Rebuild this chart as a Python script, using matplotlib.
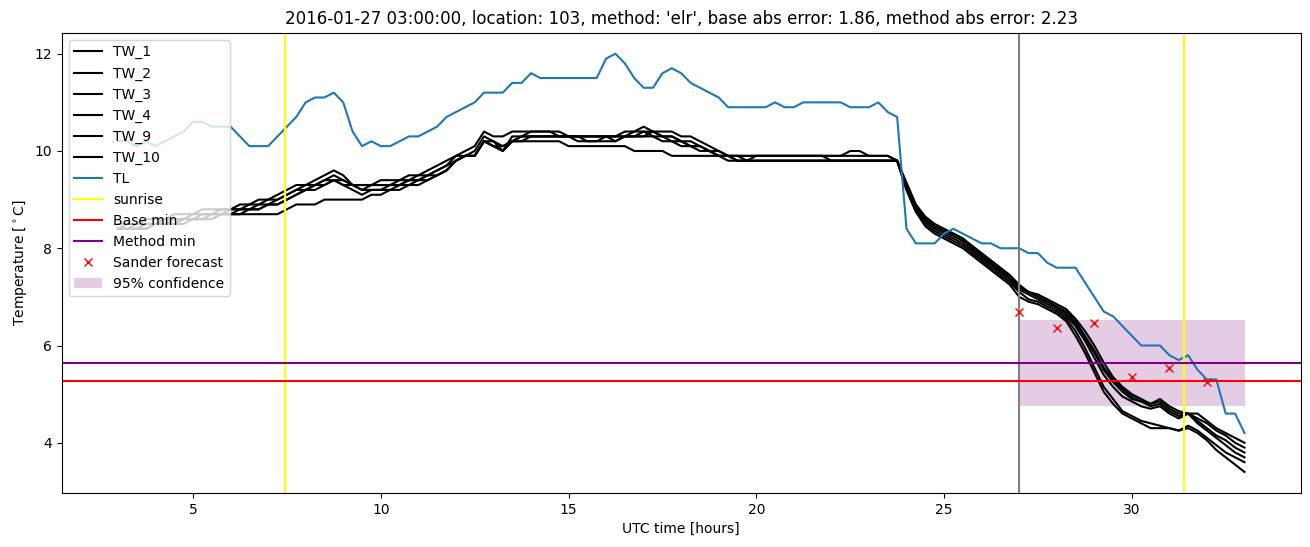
import matplotlib
matplotlib.use('Agg')
import matplotlib.pyplot as plt
import numpy as np

# time axis, 15 min steps [hours UTC]
t = np.arange(3.0, 33.01, 0.25)

TL = [10.2, 10.2, 10.1, 10.2, 10.1, 10.2, 10.3, 10.4, 10.6, 10.6, 10.5, 10.5,
      10.5, 10.3, 10.1, 10.1, 10.1, 10.3, 10.5, 10.7, 11.0, 11.1, 11.1, 11.2,
      11.0, 10.4, 10.1, 10.2, 10.1, 10.1, 10.2, 10.3, 10.3, 10.4, 10.5, 10.7,
      10.8, 10.9, 11.0, 11.2, 11.2, 11.2, 11.4, 11.4, 11.6, 11.5, 11.5, 11.5,
      11.5, 11.5, 11.5, 11.5, 11.9, 12.0, 11.8, 11.5, 11.3, 11.3, 11.6, 11.7,
      11.6, 11.4, 11.3, 11.2, 11.1, 10.9, 10.9, 10.9, 10.9, 10.9, 11.0, 10.9,
      10.9, 11.0, 11.0, 11.0, 11.0, 11.0, 10.9, 10.9, 10.9, 11.0, 10.8, 10.7,
      8.4, 8.1, 8.1, 8.1, 8.3, 8.4, 8.3, 8.2, 8.1, 8.1, 8.0, 8.0,
      8.0, 7.9, 7.9, 7.7, 7.6, 7.6, 7.6, 7.3, 7.0, 6.7, 6.6, 6.4,
      6.2, 6.0, 6.0, 6.0, 5.8, 5.7, 5.8, 5.5, 5.3, 5.3, 4.6, 4.6, 4.2]

TW_1 = [8.5, 8.5, 8.5, 8.6, 8.6, 8.6, 8.7, 8.7, 8.7, 8.8, 8.8, 8.8,
        8.8, 8.9, 8.9, 9.0, 9.0, 9.1, 9.2, 9.3, 9.3, 9.4, 9.5, 9.6,
        9.5, 9.3, 9.3, 9.3, 9.4, 9.4, 9.4, 9.5, 9.5, 9.6, 9.7, 9.8,
        9.9, 10.0, 10.1, 10.4, 10.3, 10.3, 10.4, 10.4, 10.4, 10.4, 10.4, 10.4,
        10.3, 10.3, 10.3, 10.3, 10.3, 10.3, 10.4, 10.4, 10.5, 10.4, 10.4, 10.4,
        10.3, 10.3, 10.2, 10.1, 10.0, 9.9, 9.9, 9.9, 9.9, 9.9, 9.9, 9.9,
        9.9, 9.9, 9.9, 9.9, 9.9, 9.9, 10.0, 10.0, 9.9, 9.9, 9.9, 9.8,
        9.35, 8.9, 8.65, 8.5, 8.4, 8.3, 8.2, 8.05, 7.9, 7.75, 7.6, 7.45,
        7.25, 7.1, 7.05, 6.95, 6.85, 6.75, 6.55, 6.3, 6.0, 5.65, 5.35, 5.15,
        5.0, 4.9, 4.8, 4.9, 4.75, 4.65, 4.6, 4.6, 4.45, 4.3, 4.2, 4.1, 4.0]

TW_2 = [8.4, 8.5, 8.5, 8.5, 8.5, 8.6, 8.6, 8.6, 8.7, 8.7, 8.7, 8.8,
        8.8, 8.8, 8.9, 8.9, 9.0, 9.0, 9.1, 9.2, 9.3, 9.3, 9.4, 9.5,
        9.4, 9.3, 9.2, 9.3, 9.3, 9.3, 9.4, 9.4, 9.5, 9.5, 9.6, 9.7,
        9.9, 9.9, 10.0, 10.3, 10.2, 10.0, 10.3, 10.3, 10.4, 10.4, 10.4, 10.3,
        10.3, 10.3, 10.3, 10.3, 10.3, 10.3, 10.3, 10.4, 10.4, 10.4, 10.3, 10.3,
        10.2, 10.2, 10.1, 10.0, 10.0, 9.9, 9.9, 9.9, 9.9, 9.9, 9.9, 9.9,
        9.9, 9.9, 9.9, 9.9, 9.9, 9.9, 9.9, 9.9, 9.9, 9.9, 9.9, 9.8,
        9.3, 8.85, 8.6, 8.45, 8.35, 8.3, 8.2, 8.0, 7.85, 7.7, 7.55, 7.4,
        7.2, 7.1, 7.0, 6.9, 6.8, 6.7, 6.5, 6.2, 5.9, 5.55, 5.3, 5.1,
        4.95, 4.85, 4.8, 4.85, 4.7, 4.6, 4.6, 4.5, 4.4, 4.25, 4.15, 4.0, 3.9]

TW_3 = [8.4, 8.4, 8.5, 8.5, 8.5, 8.5, 8.6, 8.6, 8.6, 8.7, 8.7, 8.7,
        8.8, 8.8, 8.8, 8.9, 8.9, 9.0, 9.1, 9.2, 9.2, 9.3, 9.4, 9.4,
        9.4, 9.3, 9.3, 9.3, 9.3, 9.3, 9.3, 9.4, 9.4, 9.5, 9.6, 9.7,
        9.8, 9.9, 9.9, 10.2, 10.1, 10.0, 10.2, 10.3, 10.3, 10.3, 10.3, 10.3,
        10.3, 10.3, 10.2, 10.2, 10.3, 10.3, 10.3, 10.3, 10.3, 10.4, 10.3, 10.2,
        10.2, 10.1, 10.1, 10.0, 9.9, 9.9, 9.8, 9.8, 9.8, 9.8, 9.8, 9.8,
        9.8, 9.8, 9.8, 9.8, 9.8, 9.8, 9.8, 9.8, 9.8, 9.8, 9.8, 9.8,
        9.3, 8.85, 8.6, 8.45, 8.35, 8.25, 8.15, 8.0, 7.85, 7.7, 7.55, 7.4,
        7.2, 7.1, 7.0, 6.9, 6.8, 6.65, 6.45, 6.15, 5.85, 5.5, 5.25, 5.05,
        4.9, 4.85, 4.75, 4.8, 4.65, 4.55, 4.6, 4.45, 4.3, 4.15, 4.05, 3.9, 3.8]

TW_4 = [8.4, 8.4, 8.4, 8.5, 8.5, 8.5, 8.5, 8.6, 8.6, 8.6, 8.7, 8.7,
        8.7, 8.8, 8.8, 8.8, 8.9, 8.9, 9.0, 9.1, 9.2, 9.3, 9.3, 9.4,
        9.3, 9.2, 9.1, 9.2, 9.2, 9.3, 9.3, 9.4, 9.4, 9.5, 9.5, 9.6,
        9.8, 9.9, 9.9, 10.2, 10.1, 10.1, 10.2, 10.2, 10.3, 10.3, 10.3, 10.3,
        10.3, 10.2, 10.2, 10.2, 10.2, 10.2, 10.3, 10.3, 10.3, 10.3, 10.2, 10.2,
        10.1, 10.1, 10.0, 10.0, 9.9, 9.8, 9.8, 9.8, 9.8, 9.8, 9.8, 9.8,
        9.8, 9.8, 9.8, 9.8, 9.8, 9.8, 9.8, 9.8, 9.8, 9.8, 9.8, 9.8,
        9.25, 8.8, 8.55, 8.4, 8.3, 8.2, 8.1, 7.95, 7.8, 7.65, 7.5, 7.35,
        7.15, 7.05, 6.95, 6.85, 6.75, 6.6, 6.4, 6.1, 5.75, 5.4, 5.15, 4.95,
        4.85, 4.75, 4.7, 4.75, 4.6, 4.5, 4.6, 4.4, 4.25, 4.1, 3.95, 3.8, 3.7]

TW_9 = [8.4, 8.4, 8.4, 8.4, 8.5, 8.5, 8.5, 8.5, 8.6, 8.6, 8.6, 8.7,
        8.7, 8.7, 8.8, 8.8, 8.9, 8.9, 9.0, 9.1, 9.2, 9.2, 9.3, 9.4,
        9.3, 9.3, 9.2, 9.2, 9.2, 9.2, 9.3, 9.3, 9.4, 9.4, 9.5, 9.6,
        9.8, 9.9, 9.9, 10.2, 10.1, 10.0, 10.2, 10.3, 10.3, 10.3, 10.3, 10.3,
        10.3, 10.3, 10.3, 10.3, 10.3, 10.2, 10.3, 10.3, 10.4, 10.3, 10.3, 10.3,
        10.2, 10.1, 10.1, 10.0, 9.9, 9.9, 9.9, 9.8, 9.9, 9.9, 9.9, 9.9,
        9.9, 9.9, 9.9, 9.9, 9.8, 9.8, 9.8, 9.8, 9.8, 9.8, 9.8, 9.8,
        9.2, 8.75, 8.5, 8.35, 8.25, 8.15, 8.05, 7.9, 7.75, 7.6, 7.45, 7.3,
        7.1, 6.95, 6.9, 6.8, 6.7, 6.55, 6.3, 5.95, 5.55, 5.15, 4.9, 4.65,
        4.55, 4.45, 4.4, 4.35, 4.3, 4.25, 4.35, 4.25, 4.1, 3.95, 3.8, 3.7, 3.6]

TW_10 = [8.4, 8.4, 8.4, 8.4, 8.5, 8.5, 8.5, 8.6, 8.6, 8.6, 8.6, 8.7,
         8.7, 8.7, 8.7, 8.7, 8.7, 8.7, 8.8, 8.9, 8.9, 8.9, 9.0, 9.0,
         9.0, 9.0, 9.0, 9.1, 9.1, 9.2, 9.2, 9.3, 9.3, 9.4, 9.5, 9.6,
         9.8, 9.9, 9.9, 10.2, 10.2, 10.1, 10.2, 10.2, 10.2, 10.2, 10.2, 10.2,
         10.1, 10.1, 10.1, 10.1, 10.1, 10.1, 10.1, 10.0, 10.0, 10.0, 10.0, 9.9,
         9.9, 9.9, 9.9, 9.9, 9.9, 9.9, 9.8, 9.8, 9.8, 9.8, 9.8, 9.8,
         9.8, 9.8, 9.8, 9.8, 9.8, 9.8, 9.8, 9.8, 9.8, 9.8, 9.8, 9.8,
         9.2, 8.75, 8.45, 8.3, 8.2, 8.1, 8.0, 7.85, 7.7, 7.55, 7.4, 7.25,
         7.0, 6.9, 6.85, 6.75, 6.65, 6.5, 6.2, 5.85, 5.45, 5.05, 4.8, 4.6,
         4.5, 4.4, 4.3, 4.3, 4.3, 4.25, 4.3, 4.2, 4.05, 3.85, 3.7, 3.55, 3.4]

tw_series = [TW_1, TW_2, TW_3, TW_4, TW_9, TW_10]
tw_names = ['TW_1', 'TW_2', 'TW_3', 'TW_4', 'TW_9', 'TW_10']

sunrise = [7.45, 31.4]
now = 27.0
base_min = 5.26
method_min = 5.63

fc_hours = [27, 28, 29, 30, 31, 32]
fc_temp = [6.69, 6.36, 6.46, 5.35, 5.54, 5.24]

conf_hours = [27, 33]
conf_low = 4.75
conf_high = 6.53

fig, ax = plt.subplots(figsize=(13.1, 5.47), dpi=100)
fig.subplots_adjust(left=0.047, right=0.993, top=0.94, bottom=0.099)

for name, vals in zip(tw_names, tw_series):
    ax.plot(t, vals, color='black', label=name)
ax.plot(t, TL, color='tab:blue', label='TL')

ax.axvline(sunrise[0], color='yellow', label='sunrise')
ax.axvline(sunrise[1], color='yellow')
ax.axvline(now, color='grey')
ax.axhline(base_min, color='red', label='Base min')
ax.axhline(method_min, color='purple', label='Method min')
ax.plot(fc_hours, fc_temp, 'x', color='red', linestyle='none', label='Sander forecast')
ax.fill_between(conf_hours, conf_low, conf_high, color='purple', alpha=0.2,
                linewidth=0, label='95% confidence')

ax.set_xlabel('UTC time [hours]')
ax.set_ylabel(r'Temperature [$^\circ$C]')
ax.set_title("2016-01-27 03:00:00, location: 103, method: 'elr', "
             "base abs error: 1.86, method abs error: 2.23")
ax.legend(loc='upper left')

plt.savefig('out.png', dpi=100)
